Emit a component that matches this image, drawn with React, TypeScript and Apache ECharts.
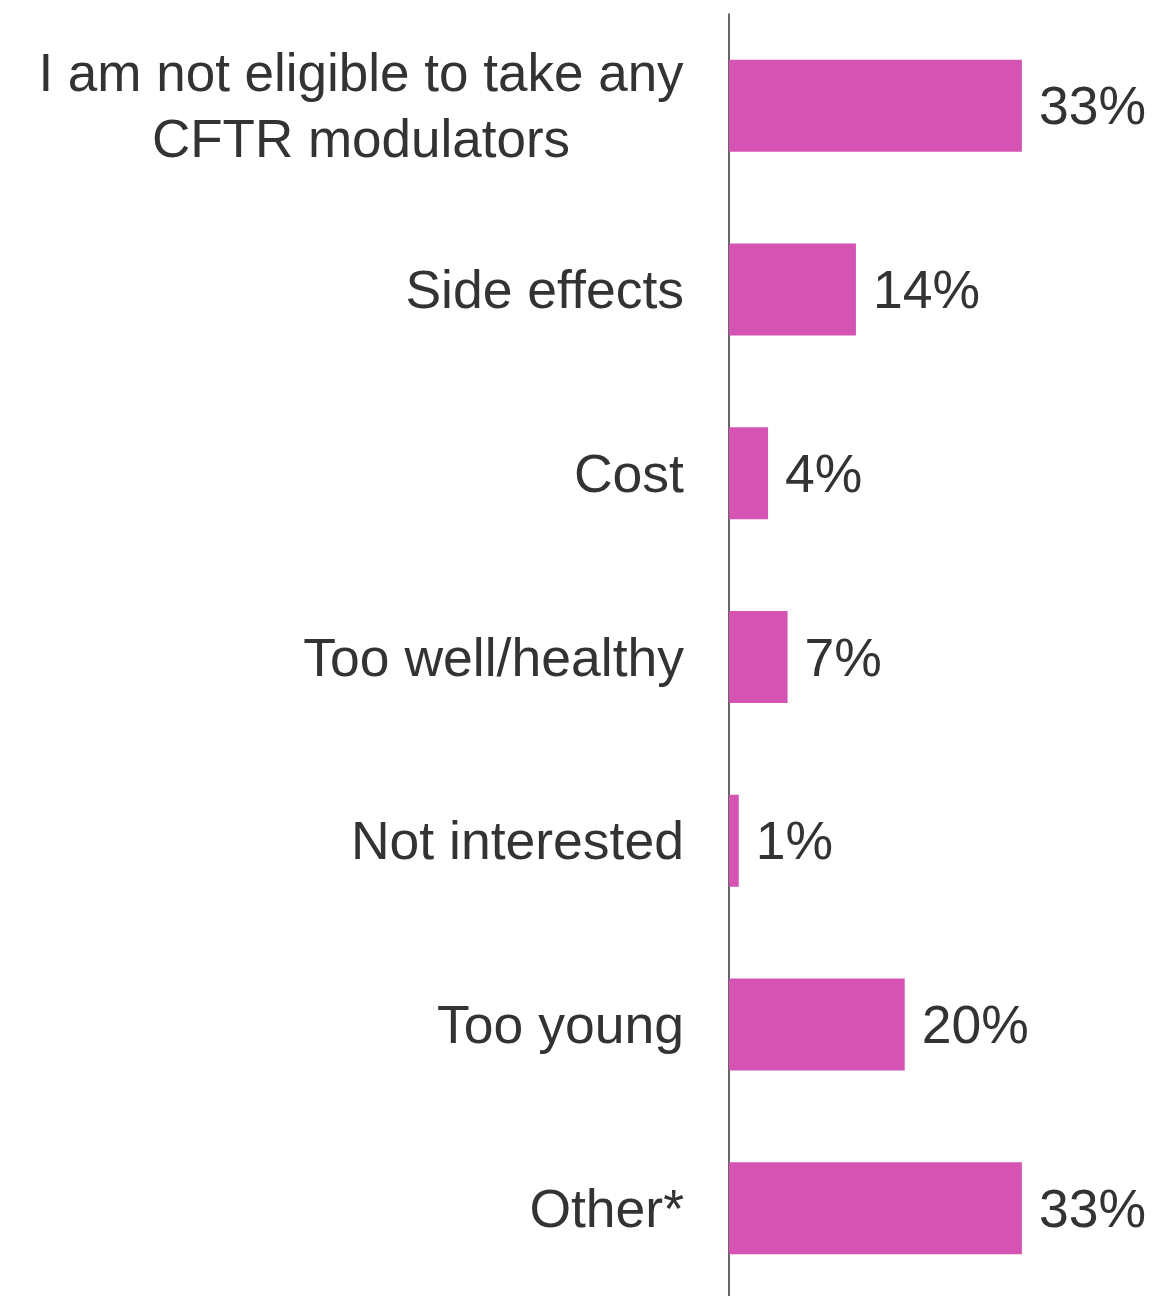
import React, { useEffect, useRef } from "react";
import * as echarts from "echarts";

const categories: string[] = [
  "I am not eligible to take any\nCFTR modulators",
  "Side effects",
  "Cost",
  "Too well/healthy",
  "Not interested",
  "Too young",
  "Other*",
];

const values: number[] = [33, 14.3, 4.4, 6.6, 1.1, 19.8, 33];

const BAR_COLOR = "#D553B2";
const TEXT_COLOR = "#333333";
const FONT = "'Liberation Sans', Arial, Helvetica, sans-serif";

export default function App() {
  const ref = useRef<HTMLDivElement>(null);

  useEffect(() => {
    if (!ref.current) return;
    const chart = echarts.init(ref.current, undefined, { renderer: "svg" });
    chart.setOption({
      animation: false,
      backgroundColor: "#ffffff",
      grid: { left: 729, right: 1, top: 14, bottom: 0, containLabel: false },
      xAxis: {
        type: "value",
        min: 0,
        max: 48,
        show: false,
        splitLine: { show: false },
      },
      yAxis: {
        type: "category",
        inverse: true,
        data: categories,
        axisLine: { show: true, lineStyle: { color: TEXT_COLOR, width: 1.5 } },
        axisTick: { show: false },
        axisLabel: {
          margin: 45,
          fontSize: 53.5,
          lineHeight: 66,
          color: TEXT_COLOR,
          fontFamily: FONT,
          align: "right",
          formatter: (v: string) =>
            v.indexOf("\n") >= 0
              ? v
                  .split("\n")
                  .map((line) => `{c|${line}}`)
                  .join("\n")
              : v,
          rich: {
            c: {
              width: 646,
              align: "center",
              fontSize: 53,
              lineHeight: 66,
              color: TEXT_COLOR,
              fontFamily: FONT,
            },
          },
        },
      },
      series: [
        {
          type: "bar",
          data: values,
          barWidth: 92,
          itemStyle: { color: BAR_COLOR },
          label: {
            show: true,
            position: "right",
            distance: 17,
            fontSize: 53.5,
            color: TEXT_COLOR,
            fontFamily: FONT,
            formatter: (p: any) => `${Math.round(p.value)}%`,
          },
        },
      ],
    });
    return () => chart.dispose();
  }, []);

  return (
    <>
      <style>{"svg text{font-kerning:none;font-feature-settings:'kern' 0;}"}</style>
      <div
        ref={ref}
        style={{ position: "fixed", left: 0, top: 0, width: 1156, height: 1300, background: "#fff" }}
      />
    </>
  );
}
